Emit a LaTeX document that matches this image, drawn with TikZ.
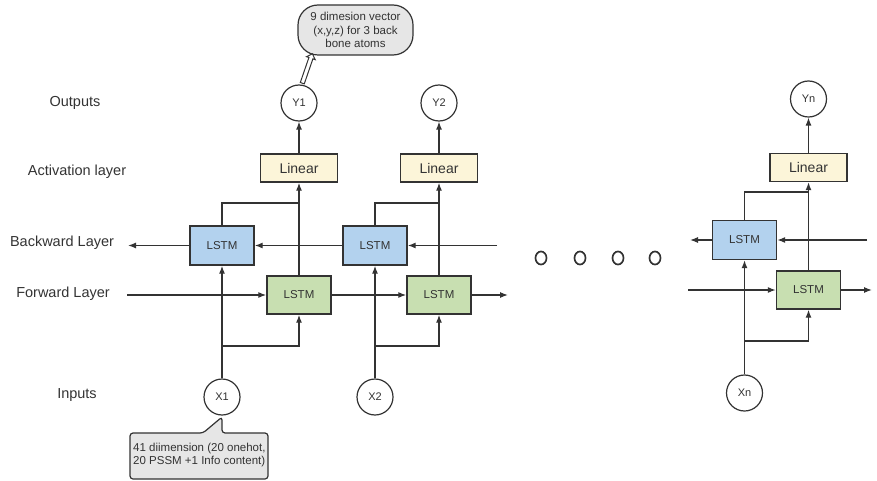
\documentclass[tikz,border=0pt]{standalone}
\usepackage{fontspec}
\setmainfont{Liberation Sans}
\usetikzlibrary{arrows.meta,shapes.arrows,shapes.geometric,calc}
\definecolor{ln}{HTML}{333333}
\definecolor{linfill}{HTML}{FCF5D9}
\definecolor{bfill}{HTML}{B3D2EE}
\definecolor{ffill}{HTML}{C8DFB1}
\definecolor{callfill}{HTML}{E6E6E6}
\begin{document}
\begin{tikzpicture}[x=1pt,y=-1pt,
  lab/.style={font=\fontsize{14.5}{17}\selectfont, text=ln},
  lstmb/.style={draw=ln,line width=1.4pt,fill=bfill,minimum width=64pt,minimum height=39pt,inner sep=0pt,font=\fontsize{11.5}{13}\selectfont,text=ln},
  lstmf/.style={draw=ln,line width=1.4pt,fill=ffill,minimum width=64pt,minimum height=38pt,inner sep=0pt,font=\fontsize{11.5}{13}\selectfont,text=ln},
  linbox/.style={draw=ln,line width=1.4pt,fill=linfill,minimum width=77pt,minimum height=28pt,inner sep=0pt,font=\fontsize{14}{16}\selectfont,text=ln},
  io/.style={circle,draw=ln,line width=1.2pt,fill=white,minimum size=36pt,inner sep=0pt,font=\fontsize{11}{12}\selectfont,text=ln},
  arr/.style={draw=ln,line width=1.2pt,-{Latex[length=8pt,width=6pt]}},
  con/.style={draw=ln,line width=1.2pt},
  dotc/.style={ellipse,draw=ln,line width=1.7pt,minimum width=11pt,minimum height=13pt,inner sep=0pt},
  callout/.style={draw=ln,line width=1.2pt,fill=callfill,font=\fontsize{11.5}{13.5}\selectfont,text=ln}
]
\useasboundingbox (0,0) rectangle (877,481);

% row labels
\node[lab] (lout) at (75,103) {Outputs};
\node[lab] (lact) at (77,172) {Activation layer};
\node[lab] (lbwd) at (62,243) {Backward Layer};
\node[lab] (lfwd) at (63,294) {Forward Layer};
\node[lab] (linp) at (77,395) {Inputs};

% column 1
\node[io] (Y1) at (299,103) {Y1};
\node[linbox] (L1) at (299,168) {Linear};
\node[lstmb] (B1) at (222,245.5) {LSTM};
\node[lstmf] (F1) at (299,295) {LSTM};
\node[io] (X1) at (222,397) {X1};

% column 2
\node[io] (Y2) at (439,103) {Y2};
\node[linbox] (L2) at (439,168) {Linear};
\node[lstmb] (B2) at (375,245.5) {LSTM};
\node[lstmf] (F2) at (439,295) {LSTM};
\node[io] (X2) at (375,397) {X2};

% column n
\node[io] (Yn) at (808.5,99) {Yn};
\node[linbox] (Ln) at (808.5,167.5) {Linear};
\node[lstmb] (Bn) at (744.5,240) {LSTM};
\node[lstmf] (Fn) at (808.5,290) {LSTM};
\node[io] (Xn) at (744.5,393) {Xn};

% dots
\node[dotc] (d1) at (541,258) {};
\node[dotc] (d2) at (580,258) {};
\node[dotc] (d3) at (618,258) {};
\node[dotc] (d4) at (655,258) {};

% free ends and joints
\coordinate (bin2) at (497,245.5);
\coordinate (bout1) at (128,245.5);
\coordinate (fin1) at (127,295);
\coordinate (fout2) at (508,295);
\coordinate (binn) at (867,240);
\coordinate (boutn) at (690,240);
\coordinate (finn) at (688,290);
\coordinate (foutn) at (872,290);
\coordinate (s1) at (222,346);
\coordinate (m1) at (299,203);
\coordinate (s2) at (375,346);
\coordinate (m2) at (439,203);
\coordinate (sn) at (744.5,341);
\coordinate (mn) at (808.5,192);

% backward chain
\draw[arr] (bin2) -- (B2.east);
\draw[arr] (B2.west) -- (B1.east);
\draw[arr] (B1.west) -- (bout1);
\draw[arr] (binn) -- (Bn.east);
\draw[arr] (Bn.west) -- (boutn);

% forward chain
\draw[arr] (fin1) -- (F1.west);
\draw[arr] (F1.east) -- (F2.west);
\draw[arr] (F2.east) -- (fout2);
\draw[arr] (finn) -- (Fn.west);
\draw[arr] (Fn.east) -- (foutn);

% column 1 verticals
\draw[arr] (X1.north) -- (B1.south);
\draw[arr] (s1) -| (F1.south);
\draw[arr] (F1.north) -- (L1.south);
\draw[con] (B1.north) |- (m1);
\draw[arr] (L1.north) -- (Y1.south);

% column 2 verticals
\draw[arr] (X2.north) -- (B2.south);
\draw[arr] (s2) -| (F2.south);
\draw[arr] (F2.north) -- (L2.south);
\draw[con] (B2.north) |- (m2);
\draw[arr] (L2.north) -- (Y2.south);

% column n verticals
\draw[arr] (Xn.north) -- (Bn.south);
\draw[arr] (sn) -| (Fn.south);
\draw[arr] (Fn.north) -- (Ln.south);
\draw[con] (Bn.north) |- (mn);
\draw[arr] (Ln.north) -- (Yn.south);

% top callout
\node[callout,rounded corners=20pt,minimum width=115pt,minimum height=50pt,inner sep=2pt,align=center] (note1) at (355.5,30) {9 dimesion vector\\(x,y,z) for 3 back\\bone atoms};
\node[single arrow,draw=ln,line width=1pt,fill=white,minimum height=31pt,minimum width=9pt,inner sep=1.6pt,single arrow head extend=2.5pt,rotate=71] (harr) at (307,69.5) {};

% bottom callout
\draw[draw=ln,line width=1.2pt,fill=callfill,rounded corners=3pt]
  (130,433) -- (203,433) -- (222,417) -- (222,433) -- (268,433) -- (268,479) -- (130,479) -- cycle;
\node[font=\fontsize{11.5}{13}\selectfont,text=ln,align=left,anchor=west,inner sep=0pt] (note2) at (133,455) {41 diimension (20 onehot,\\20 PSSM +1 Info content)};
\end{tikzpicture}
\end{document}
